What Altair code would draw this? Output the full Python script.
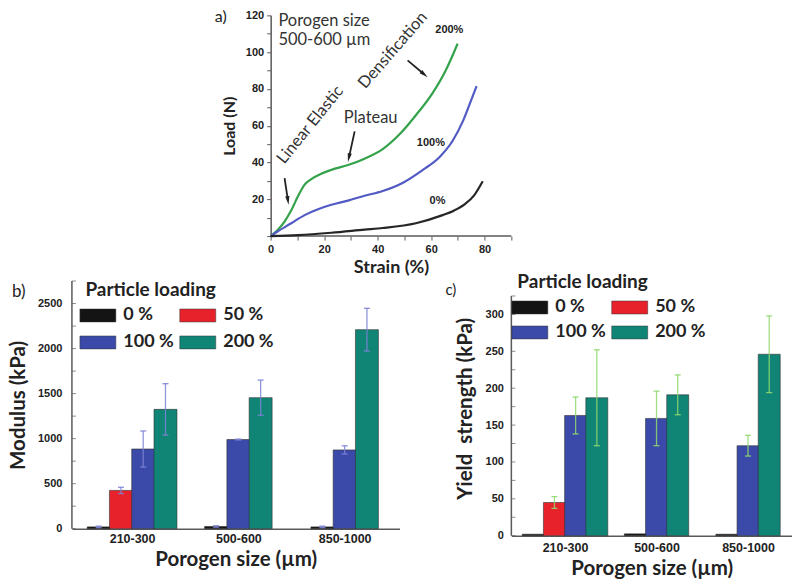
import json
import math
import altair as alt
import pandas as pd

TITLE_FONT = "Lato"
TICK_FONT = "Liberation Sans"
INK = "#222222"
AXIS_GREY = "#5a5a5a"

# ---------------- panel a: load vs strain (porogen 500-600 um) ----------------
strain_200 = [0, 2.7, 5.2, 7.7, 10.2, 12.7, 15.2, 18.9, 22.7, 28.9, 35.1, 41.9, 48.1, 54.3, 60.6, 65.5, 69.9]
load_200 = [0, 3.5, 7.9, 14.0, 21.6, 28.0, 31.0, 33.9, 36.0, 38.6, 42.1, 47.3, 55.2, 65.7, 77.9, 90.2, 104.6]
strain_100 = [0, 2.7, 7.7, 12.7, 17.7, 22.7, 28.9, 35.1, 41.9, 49.3, 56.8, 63.1, 68.0, 71.8, 74.9, 77.0]
load_100 = [0, 2.6, 7.0, 11.4, 14.6, 17.0, 19.3, 21.9, 24.5, 28.9, 35.9, 42.9, 51.7, 62.2, 73.6, 81.5]
strain_0 = [0, 10.2, 22.7, 35.1, 41.9, 54.3, 64.3, 68.5, 72.5, 76.0, 79.3]
load_0 = [0, 0.5, 1.8, 3.5, 4.4, 7.0, 11.4, 13.8, 17.2, 22.0, 29.8]

curve_names = ["200%", "100%", "0%"]
curve_colors = ["#34a24b", "#525ac4", "#262626"]
curve_label_x = [66.8, 59.9, 62.4]
curve_label_y = [112.0, 50.8, 19.2]

note_lines = ["Porogen size", "500-600 µm"]
note_x = [2.9, 2.9]
note_y = [116.8, 106.4]

phase_names = ["Linear Elastic", "Plateau", "Densification"]
phase_x = [14.8, 37.4, 45.7]
phase_y = [60.5, 64.0, 101.0]
phase_angle = [309, 0, 311]

arrow_x1 = [5.2, 31.4, 51.2]
arrow_y1 = [31.5, 56.9, 95.5]
arrow_x2 = [6.7, 28.9, 58.7]
arrow_y2 = [17.0, 40.3, 86.4]

# ---------------- panels b and c ----------------
porogen_sizes = ["210-300", "500-600", "850-1000"]
loadings = ["0 %", "50 %", "100 %", "200 %"]
loading_colors = ["#141414", "#e8222b", "#3b4aa8", "#108576"]

modulus_0 = [20, 25, 20]
modulus_50 = [425, None, None]
modulus_100 = [885, 990, 875]
modulus_200 = [1325, 1455, 2210]
modulus_err_0 = [8, 8, 8]
modulus_err_50 = [35, None, None]
modulus_err_100 = [200, 5, 45]
modulus_err_200 = [285, 195, 237]

yield_0 = [2, 2.5, 2]
yield_50 = [45, None, None]
yield_100 = [163, 159, 122]
yield_200 = [187, 191, 246]
yield_err_0 = [0, 0, 0]
yield_err_50 = [8, None, None]
yield_err_100 = [25, 37, 14]
yield_err_200 = [65, 27, 52]

# ---------------- layout (pixels) ----------------
A_OFF = 199          # panel a plot starts this far right of panel b's plot
A_W, A_H = 241, 221  # panel a plot area
B_W, B_H = 328, 248
C_W, C_H = 281, 240
C_DROP = 15          # panel c plot sits this much lower than panel b
ROW_GAP = 45

SWATCH = "M-1.5,-0.54H1.5V0.54H-1.5Z"
ARROW = "M0,-1L0.42,0.75L-0.42,0.75Z"
HEAD_SIZE = 100


def label_layer(text, x, y, size):
    return alt.Chart(pd.DataFrame({"t": [text]})).mark_text(
        align="left", baseline="top", font=TITLE_FONT, fontSize=size, color=INK
    ).encode(x=alt.value(x), y=alt.value(y), text="t:N")


# ======== panel a ========
curves = pd.concat([
    pd.DataFrame({"strain": strain_200, "load": load_200, "series": curve_names[0]}),
    pd.DataFrame({"strain": strain_100, "load": load_100, "series": curve_names[1]}),
    pd.DataFrame({"strain": strain_0, "load": load_0, "series": curve_names[2]}),
])

X_MAX_A = 90
px_x = A_W / X_MAX_A
px_y = A_H / 120.0
sx_a = alt.Scale(domain=[-A_OFF / px_x, X_MAX_A], nice=False, zero=False)
sy_a = alt.Scale(domain=[0, 120], nice=False)
ax_x_a = alt.Axis(
    values=list(range(0, X_MAX_A + 1, 10)),
    labelExpr="datum.value % 20 == 0 && datum.value <= 80 ? datum.label : ''",
    title="Strain (%)", titleX=A_OFF + A_W / 2, titleAnchor="start", titleAlign="center",
    domain=False, tickSize=4, tickColor=AXIS_GREY,
    labelPadding=3, titlePadding=4, titleFontSize=18,
)
ax_y_a = alt.Axis(
    values=list(range(0, 121, 10)), offset=-A_OFF,
    labelExpr="datum.value % 20 == 0 && datum.value > 0 ? datum.label : ''",
    title="Load (N)", tickSize=4, tickColor=AXIS_GREY, domainColor=AXIS_GREY,
    domainWidth=1.5, labelPadding=3, titlePadding=8, titleFontSize=16,
)


def xa(f):
    return alt.X(f"{f}:Q", scale=sx_a, axis=ax_x_a)


def ya(f):
    return alt.Y(f"{f}:Q", scale=sy_a, axis=ax_y_a)


x_axis_line = alt.Chart(pd.DataFrame({"strain": [0], "strain2": [X_MAX_A]})).mark_rule(
    color=AXIS_GREY, strokeWidth=1.5
).encode(x=xa("strain"), x2="strain2:Q", y=alt.value(A_H))

lines = alt.Chart(curves).mark_line(interpolate="monotone", strokeWidth=2.2).encode(
    x=xa("strain"), y=ya("load"),
    color=alt.Color("series:N", scale=alt.Scale(domain=curve_names, range=curve_colors), legend=None),
)

curve_labels = alt.Chart(pd.DataFrame({"strain": curve_label_x, "load": curve_label_y, "t": curve_names})).mark_text(
    font=TICK_FONT, fontWeight="bold", fontSize=11, color=INK
).encode(x=xa("strain"), y=ya("load"), text="t:N")

notes = alt.Chart(pd.DataFrame({"strain": note_x, "load": note_y, "t": note_lines})).mark_text(
    align="left", font=TITLE_FONT, fontSize=16.5, color="#333333"
).encode(x=xa("strain"), y=ya("load"), text="t:N")

phases = alt.Chart(pd.DataFrame({"strain": phase_x, "load": phase_y, "t": phase_names, "ang": phase_angle})).mark_text(
    font=TITLE_FONT, fontSize=16.5, color="#333333"
).encode(x=xa("strain"), y=ya("load"), text="t:N", angle=alt.Angle("ang:Q", scale=None))

head_x, head_y, head_ang = [], [], []
for x1, y1, x2, y2 in zip(arrow_x1, arrow_y1, arrow_x2, arrow_y2):
    dx = (x2 - x1) * px_x
    dy = -(y2 - y1) * px_y
    L = math.hypot(dx, dy)
    head_ang.append(math.degrees(math.atan2(dx, -dy)) % 360)
    back = math.sqrt(HEAD_SIZE) / 2.0
    head_x.append(x2 - dx / L * back / px_x)
    head_y.append(y2 + dy / L * back / px_y)

arrow_df = pd.DataFrame({"strain": arrow_x1, "load": arrow_y1, "strain2": head_x, "load2": head_y})
arrow_lines = alt.Chart(arrow_df).mark_rule(color=INK, strokeWidth=1.8).encode(
    x=xa("strain"), y=ya("load"), x2="strain2:Q", y2="load2:Q"
)
arrow_heads = alt.Chart(pd.DataFrame({"strain": head_x, "load": head_y, "ang": head_ang})).mark_point(
    shape=ARROW, filled=True, size=HEAD_SIZE, color=INK, opacity=1
).encode(x=xa("strain"), y=ya("load"), angle=alt.Angle("ang:Q", scale=None))

panel_a = alt.layer(
    x_axis_line, lines, curve_labels, notes, phases, arrow_lines, arrow_heads,
    label_layer("a)", A_OFF - 56, -6, 16),
).properties(width=A_OFF + A_W, height=A_H)


# ======== bar panels ========
def bar_table(series, errors, w_units):
    rows = []
    for i, size in enumerate(porogen_sizes):
        present = [k for k in range(len(loadings)) if series[k][i] is not None]
        n = len(present)
        for j, k in enumerate(present):
            v = series[k][i]
            e = errors[k][i] or 0
            rows.append({
                "size": size, "loading": loadings[k],
                "pos": i + (j - (n - 1) / 2.0) * w_units,
                "value": v, "lo": v - e, "hi": v + e, "err": e,
            })
    return pd.DataFrame(rows)


x_label_expr = json.dumps(porogen_sizes) + "[round(datum.value)]"


def bar_panel(series, errors, x_dom, width, height, drop, y_max, y_step, minor_step, bar_px,
              y_title, err_color, legend_xy, row_pad, panel_label, panel_xy, panel_size,
              x_lab_pad, x_title_pad, y_lab_pad, y_title_pad):
    px_unit = width / (x_dom[1] - x_dom[0])
    df = bar_table(series, errors, bar_px / px_unit)
    err_df = df[df["err"] > 0]
    sx = alt.Scale(domain=x_dom, nice=False, zero=False)
    sy = alt.Scale(domain=[0, y_max * (height + drop) / height], nice=False)
    ax_x = alt.Axis(values=[0, 1, 2], labelExpr=x_label_expr, title="Porogen size (µm)",
                    ticks=False, labelPadding=x_lab_pad, titlePadding=x_title_pad,
                    domainColor=AXIS_GREY, domainWidth=1.5, labelFontSize=12.5)
    ax_y = alt.Axis(values=list(range(0, y_max, y_step)), format="d", title=y_title, ticks=False,
                    labelPadding=y_lab_pad, titlePadding=y_title_pad, domain=False)
    X = alt.X("pos:Q", scale=sx, axis=ax_x)

    def Y(f):
        return alt.Y(f"{f}:Q", scale=sy, axis=ax_y)

    legend = alt.Legend(
        title="Particle loading", orient="none", legendX=legend_xy[0], legendY=legend_xy[1],
        direction="horizontal", columns=2, gridAlign="none", symbolType=SWATCH, symbolSize=576,
        symbolStrokeColor="#333333", symbolStrokeWidth=0.5, symbolOpacity=1,
        labelFont=TITLE_FONT, labelFontSize=18, labelFontWeight="bold", labelColor=INK,
        labelOffset=13, columnPadding=4, rowPadding=row_pad,
        titleFont=TITLE_FONT, titleFontSize=19, titleFontWeight="bold", titleColor=INK,
        titlePadding=3, padding=0,
    )
    y_axis_line = alt.Chart(pd.DataFrame({"v": [0], "v2": [y_max]})).mark_rule(
        color=AXIS_GREY, strokeWidth=1.5
    ).encode(x=alt.value(0), y=Y("v"), y2="v2:Q")
    bars = alt.Chart(df).mark_bar(orient="vertical", size=bar_px, stroke="#333333", strokeWidth=0.6).encode(
        x=X, y=Y("value"),
        color=alt.Color("loading:N", scale=alt.Scale(domain=loadings, range=loading_colors), legend=legend),
    )
    err_rules = alt.Chart(err_df).mark_rule(color=err_color, strokeWidth=1.3, opacity=0.85).encode(
        x=X, y=Y("lo"), y2="hi:Q"
    )
    caps_hi = alt.Chart(err_df).mark_tick(orient="horizontal", size=6, thickness=1.3, color=err_color, opacity=0.9).encode(
        x=X, y=Y("hi")
    )
    caps_lo = alt.Chart(err_df).mark_tick(orient="horizontal", size=6, thickness=1.3, color=err_color, opacity=0.9).encode(
        x=X, y=Y("lo")
    )
    inward = alt.Chart(pd.DataFrame({"v": list(range(0, y_max + 1, minor_step))})).mark_tick(
        orient="horizontal", size=4, thickness=1, color=AXIS_GREY
    ).encode(x=alt.value(2), y=Y("v"))
    return alt.layer(
        y_axis_line, bars, err_rules, caps_hi, caps_lo, inward,
        label_layer(panel_label, panel_xy[0], panel_xy[1], panel_size),
    ).properties(width=width, height=height + drop)


panel_b = bar_panel(
    [modulus_0, modulus_50, modulus_100, modulus_200],
    [modulus_err_0, modulus_err_50, modulus_err_100, modulus_err_200],
    [-0.519, 2.469], B_W, B_H, 0, 2750, 500, 250, 23,
    "Modulus (kPa)", "#7d83d6", (13.5, 0), 5, "b)", (-60, 3), 17,
    4, 4, 10, 9,
)

panel_c = bar_panel(
    [yield_0, yield_50, yield_100, yield_200],
    [yield_err_0, yield_err_50, yield_err_100, yield_err_200],
    [-0.532, 2.426], C_W, C_H, C_DROP, 325, 50, 25, 22,
    "Yield\u00a0 strength (kPa)", "#8fd86f", (6, -8), 3, "c)", (-66, 2), 15,
    6, 4, 8, 10,
)


def spacer(w, h):
    return alt.Chart(pd.DataFrame({"s": [0]})).mark_point(opacity=0).encode(
        x=alt.X("s:Q", axis=None), y=alt.Y("s:Q", axis=None)
    ).properties(width=w, height=h)


chart = alt.concat(
    panel_a, spacer(1, 1), panel_b, panel_c,
    columns=2, spacing={"row": ROW_GAP, "column": 0}, align="each", bounds="flush",
).resolve_scale(color="independent").properties(padding=0).configure_view(stroke=None).configure_axis(
    labelFont=TICK_FONT, labelFontWeight="bold", labelFontSize=11, labelColor=INK,
    titleFont=TITLE_FONT, titleFontWeight="bold", titleFontSize=20.5, titleColor=INK,
    grid=False,
)

chart.save("out.html", embed_options={"renderer": "svg", "actions": False})
